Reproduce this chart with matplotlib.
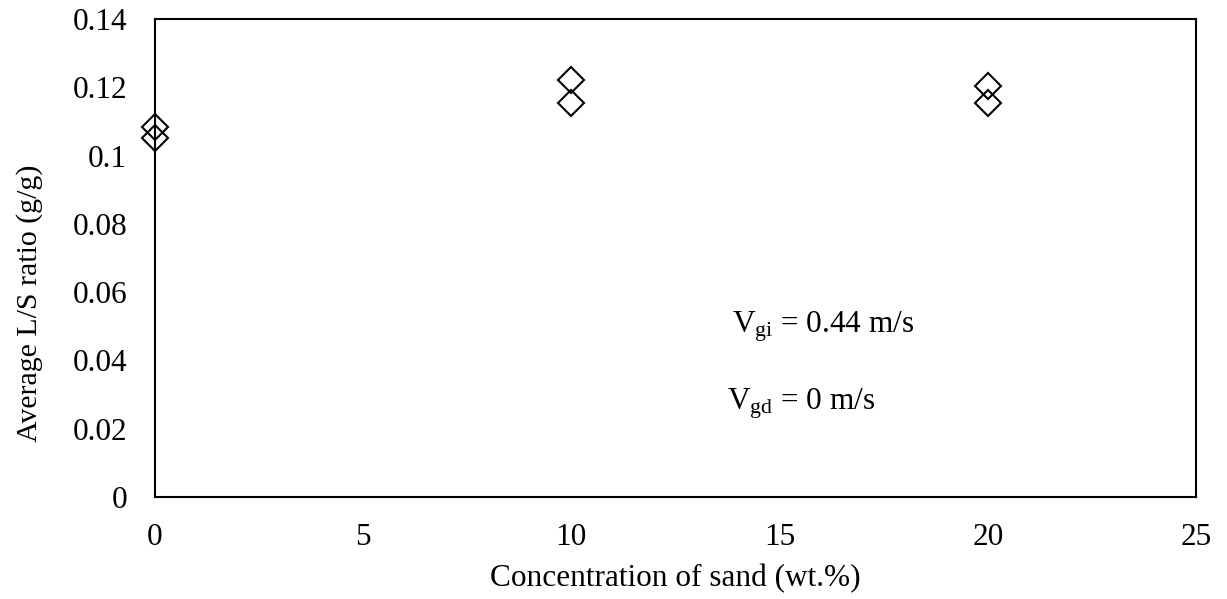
import matplotlib
matplotlib.use('Agg')
import matplotlib.pyplot as plt

plt.rcParams['font.family'] = ['Liberation Serif', 'DejaVu Serif']
plt.rcParams['mathtext.fontset'] = 'custom'
plt.rcParams['mathtext.rm'] = 'Liberation Serif'
plt.rcParams['mathtext.it'] = 'Liberation Serif:italic'

# Средние значения L/S при разной концентрации песка
sand = [0, 0, 10, 10, 20, 20]
ls_ratio = [0.1085, 0.1051, 0.1221, 0.1153, 0.1204, 0.1155]

x_ticks = [0, 5, 10, 15, 20, 25]
y_ticks = [0, 0.02, 0.04, 0.06, 0.08, 0.1, 0.12, 0.14]
y_labels = ['0', '0.02', '0.04', '0.06', '0.08', '0.1', '0.12', '0.14']

fig = plt.figure(figsize=(12.27, 5.99), dpi=100)
ax = fig.add_axes([0.1263, 0.1703, 0.8484, 0.798])

ax.plot(sand, ls_ratio, linestyle='none', marker='D', markersize=13.5,
        markerfacecolor='none', markeredgecolor='black', markeredgewidth=1.5,
        clip_on=False, zorder=5)

ax.set_xlim(0, 25)
ax.set_ylim(0, 0.14)
ax.set_xticks(x_ticks)
ax.set_yticks(y_ticks)
ax.set_yticklabels(y_labels)
ax.tick_params(length=0, labelsize=22.5)
ax.tick_params(axis='x', pad=19)
ax.tick_params(axis='y', pad=20)

for s in ax.spines.values():
    s.set_linewidth(1.5)

ax.set_xlabel('Concentration of sand (wt.%)', fontsize=22.5, labelpad=8)
ax.set_ylabel('Average L/S ratio (g/g)', fontsize=21.5)
ax.yaxis.set_label_coords(-0.108, 0.406)

ax.text(13.86, 0.0483, r'V$_{\mathrm{gi}}$ = 0.44 m/s', fontsize=22.5, va='baseline')
ax.text(13.74, 0.0255, r'V$_{\mathrm{gd}}$ = 0 m/s', fontsize=22.5, va='baseline')

fig.savefig('out.png', dpi=100)
